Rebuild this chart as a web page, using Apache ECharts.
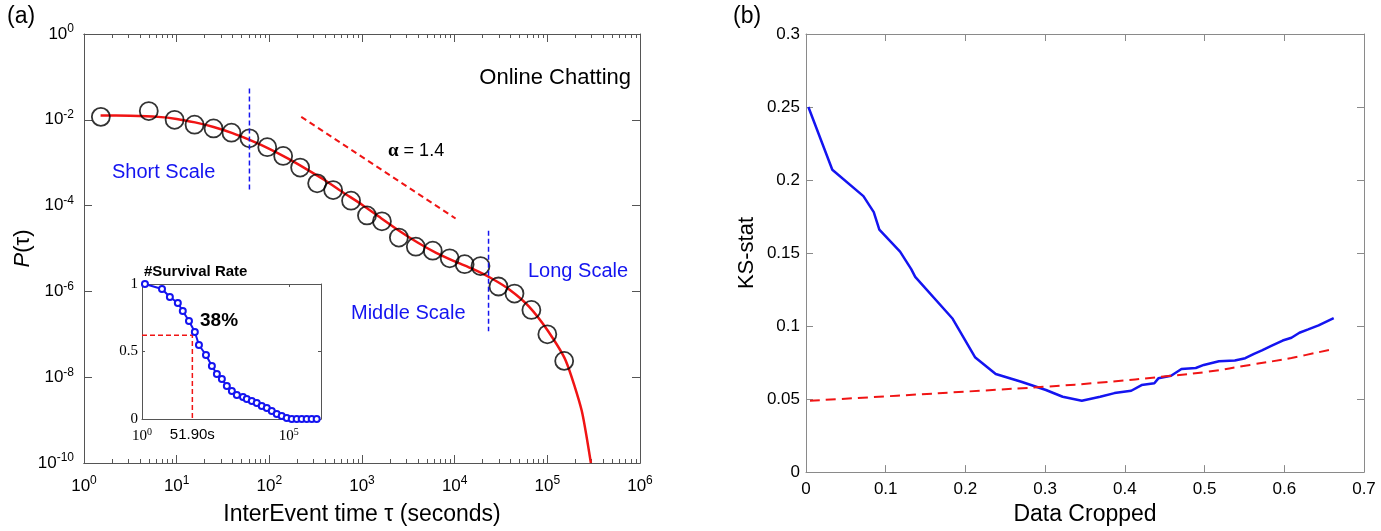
<!DOCTYPE html>
<html>
<head>
<meta charset="utf-8">
<title>InterEvent time / KS-stat</title>
<script src="https://cdn.jsdelivr.net/npm/echarts@6/dist/echarts.min.js"></script>
<style>
html, body { margin: 0; background: #fff; }
#main { width: 1381px; height: 531px; }
</style>
</head>
<body>
<div id="main"></div>
<script>
// (a) distribution of inter-event times
var tau = [1.52, 5.0, 9.5, 15.6, 25, 39, 61, 95, 141, 215, 328, 488, 762, 1132, 1641, 2500, 3808, 5800, 8836, 12816, 19000, 29700, 44200, 67300, 100000, 152000];
var pTau = [1.17e-2, 1.6e-2, 1.0e-2, 7.7e-3, 6.3e-3, 5.0e-3, 3.7e-3, 2.3e-3, 1.44e-3, 7.7e-4, 3.3e-4, 2.3e-4, 1.3e-4, 5.9e-5, 4.3e-5, 1.8e-5, 1.1e-5, 8.9e-6, 5.9e-6, 4.3e-6, 3.9e-6, 1.3e-6, 8.9e-7, 3.7e-7, 1.0e-7, 2.4e-8];
var fitTau = [1.51, 3.16, 6.3, 10, 15.8, 25, 40, 63, 100, 158, 251, 398, 631, 1000, 1585, 2512, 3981, 6310, 10000, 15849, 25119, 39811, 63096, 100000, 158489, 234423, 295121];
var fitP = [1.26e-2, 1.24e-2, 1.17e-2, 1.05e-2, 8.7e-3, 6.8e-3, 4.9e-3, 3.3e-3, 2.1e-3, 1.26e-3, 7.1e-4, 3.9e-4, 2.0e-4, 1.05e-4, 5.2e-5, 2.6e-5, 1.38e-5, 7.9e-6, 5.0e-6, 3.3e-6, 2.0e-6, 1.07e-6, 4.5e-7, 1.26e-7, 2.4e-8, 1.7e-9, 1e-10];
var scaleCuts = [61, 23200];
var cutTop = [5.4e-2, 2.6e-5];
var cutBottom = [2.3e-4, 1.17e-7];
var slopeTau = [221, 10230];
var slopeP = [1.17e-2, 5.0e-5];
var xMajor = [1, 10, 100, 1000, 10000, 100000, 1000000];
var yMajor = [1e-10, 1e-8, 1e-6, 1e-4, 1e-2, 1];

// inset: survival rate
var survTau = [1.26, 4.8, 8.9, 16.6, 24.5, 39.8, 63, 87, 151, 240, 355, 525, 776, 1150, 1700, 2750, 3700, 5500, 8100, 12000, 17800, 26300, 38900, 57500, 85100, 126000, 186000, 275000, 407000, 603000, 891000];
var survRate = [1.0, 0.963, 0.904, 0.859, 0.80, 0.726, 0.644, 0.548, 0.474, 0.393, 0.333, 0.296, 0.244, 0.207, 0.178, 0.163, 0.148, 0.133, 0.119, 0.096, 0.081, 0.059, 0.037, 0.022, 0.007, 0, 0, 0, 0, 0, 0];
var markTau = 51.9;
var markRate = 0.62;
var insetXLabels = [1, 51.9, 100000];
var insetYTicks = [0, 0.5, 1];

// (b) KS statistic vs. fraction of data cropped
var ksCrop = [0.003, 0.033, 0.072, 0.085, 0.092, 0.118, 0.132, 0.137, 0.184, 0.212, 0.238, 0.270, 0.301, 0.322, 0.346, 0.369, 0.387, 0.408, 0.421, 0.437, 0.442, 0.458, 0.471, 0.489, 0.499, 0.518, 0.538, 0.551, 0.562, 0.572, 0.583, 0.598, 0.609, 0.619, 0.630, 0.643, 0.662];
var ksStat = [0.25, 0.207, 0.189, 0.178, 0.166, 0.151, 0.139, 0.1337, 0.105, 0.0787, 0.0672, 0.0619, 0.0562, 0.0516, 0.0489, 0.0516, 0.0541, 0.0557, 0.0596, 0.0608, 0.0642, 0.066, 0.0706, 0.0713, 0.0734, 0.0759, 0.0764, 0.078, 0.081, 0.0833, 0.0862, 0.0901, 0.092, 0.0954, 0.0977, 0.1005, 0.1055];
var nullCrop = [0.005, 0.114, 0.218, 0.301, 0.374, 0.452, 0.505, 0.557, 0.609, 0.662];
var nullStat = [0.0489, 0.0523, 0.0557, 0.0585, 0.0615, 0.0656, 0.0688, 0.0734, 0.0782, 0.0844];

function zip(a, b) { return a.map(function (v, i) { return [v, b[i]]; }); }

var minorTicks = [];
for (var d = 0; d < 6; d++) {
    for (var k = 2; k < 10; k++) minorTicks.push(k * Math.pow(10, d));
}

var sans = 'Liberation Sans, Arial, sans-serif';
var serif = 'Liberation Serif, Times New Roman, serif';
var darkFrame = '#555';
var greyFrame = '#8a8a8a';
var red = '#f01414';
var blue = '#1414f0';

var supRich = {
    b: { fontSize: 17, fontFamily: sans, color: '#000' },
    s: { fontSize: 12, fontFamily: sans, color: '#000', padding: [0, 0, 10, 0] }
};
function powLabel(v) { return '{b|10}{s|' + Math.round(Math.log10(v)) + '}'; }

function frame(col, extra) {
    var a = {
        axisLine: { show: true, onZero: false, lineStyle: { color: col, width: 1 } },
        splitLine: { show: false },
        axisTick: { show: true, inside: true, length: 7, lineStyle: { color: col } },
        axisLabel: { show: false }
    };
    for (var key in extra) a[key] = extra[key];
    return a;
}
function ticks(col, len, values) {
    var t = { show: true, inside: true, length: len, lineStyle: { color: col } };
    if (values) t.customValues = values;
    return t;
}

var chart = echarts.init(document.getElementById('main'));
chart.setOption({
    backgroundColor: '#fff',
    animation: false,
    grid: [
        { left: 84, top: 34, width: 556, height: 439 },
        { left: 142, top: 284, width: 179, height: 135, show: true, backgroundColor: '#fff', borderWidth: 0, z: 5 },
        { left: 806, top: 34, width: 558, height: 439 }
    ],
    xAxis: [
        frame(darkFrame, { type: 'log', logBase: 10, gridIndex: 0, min: 1, max: 1e6, position: 'bottom',
            axisTick: ticks(darkFrame, 8, xMajor),
            axisLabel: { show: true, customValues: xMajor, margin: 12, formatter: powLabel, rich: supRich },
            name: 'InterEvent time \u03c4 (seconds)', nameLocation: 'middle', nameGap: 40,
            nameTextStyle: { fontSize: 23, fontFamily: sans, color: '#000' } }),
        frame(darkFrame, { type: 'log', logBase: 10, gridIndex: 0, min: 1, max: 1e6, position: 'bottom',
            axisTick: ticks(darkFrame, 4, minorTicks) }),
        frame(darkFrame, { type: 'log', logBase: 10, gridIndex: 0, min: 1, max: 1e6, position: 'top',
            axisTick: ticks(darkFrame, 8, xMajor) }),
        frame(darkFrame, { type: 'log', logBase: 10, gridIndex: 0, min: 1, max: 1e6, position: 'top',
            axisTick: ticks(darkFrame, 4, minorTicks) }),
        frame(darkFrame, { type: 'log', logBase: 10, gridIndex: 1, min: 1, max: 1.25e6, position: 'bottom', z: 6,
            axisTick: ticks(darkFrame, 3, [100000]),
            axisLabel: { show: true, customValues: insetXLabels, margin: 8,
                formatter: function (v) { return v === markTau ? '{m|51.90s}' : '{b|10}{s|' + Math.round(Math.log10(v)) + '}'; },
                rich: {
                    b: { fontSize: 15, fontFamily: serif, color: '#000' },
                    s: { fontSize: 10, fontFamily: serif, color: '#000', padding: [0, 0, 9, 0] },
                    m: { fontSize: 15, fontFamily: sans, color: '#000' }
                } } }),
        frame(darkFrame, { type: 'log', logBase: 10, gridIndex: 1, min: 1, max: 1.25e6, position: 'top', z: 6,
            axisTick: ticks(darkFrame, 3, [100000]) }),
        frame(greyFrame, { type: 'value', gridIndex: 2, min: 0, max: 0.7, interval: 0.1, position: 'bottom',
            axisLabel: { show: true, margin: 9, fontSize: 17, fontFamily: sans, color: '#000' },
            name: 'Data Cropped', nameLocation: 'middle', nameGap: 30,
            nameTextStyle: { fontSize: 23, fontFamily: sans, color: '#000' } }),
        frame(greyFrame, { type: 'value', gridIndex: 2, min: 0, max: 0.7, interval: 0.1, position: 'top' })
    ],
    yAxis: [
        frame(darkFrame, { type: 'log', logBase: 10, gridIndex: 0, min: 1e-10, max: 1, position: 'left',
            axisTick: ticks(darkFrame, 8, yMajor),
            axisLabel: { show: true, customValues: yMajor, margin: 10, formatter: powLabel, rich: supRich },
            name: '{i|P}{n|(\u03c4)}', nameLocation: 'middle', nameGap: 50, nameRotate: 90,
            nameTextStyle: { rich: {
                i: { fontSize: 22, fontStyle: 'italic', fontFamily: sans, color: '#000' },
                n: { fontSize: 22, fontFamily: sans, color: '#000' } } } }),
        frame(darkFrame, { type: 'log', logBase: 10, gridIndex: 0, min: 1e-10, max: 1, position: 'right',
            axisTick: ticks(darkFrame, 8, yMajor) }),
        frame(darkFrame, { type: 'value', gridIndex: 1, min: 0, max: 1, position: 'left', z: 6,
            axisTick: ticks(darkFrame, 3, [0.5]),
            axisLabel: { show: true, customValues: insetYTicks, margin: 4, fontSize: 15, fontFamily: serif, color: '#000' } }),
        frame(darkFrame, { type: 'value', gridIndex: 1, min: 0, max: 1, position: 'right', z: 6,
            axisTick: ticks(darkFrame, 3, [0.5]) }),
        frame(greyFrame, { type: 'value', gridIndex: 2, min: 0, max: 0.3, interval: 0.05, position: 'left',
            axisLabel: { show: true, margin: 6, fontSize: 17, fontFamily: sans, color: '#000' },
            name: 'KS-stat', nameLocation: 'middle', nameGap: 48, nameRotate: 90,
            nameTextStyle: { fontSize: 22, fontFamily: sans, color: '#000' } }),
        frame(greyFrame, { type: 'value', gridIndex: 2, min: 0, max: 0.3, interval: 0.05, position: 'right' })
    ],
    series: [
        { type: 'line', xAxisIndex: 0, yAxisIndex: 0, data: zip(fitTau, fitP), showSymbol: false, smooth: 0.2,
          lineStyle: { color: red, width: 2.5 }, z: 2 },
        { type: 'scatter', xAxisIndex: 0, yAxisIndex: 0, data: zip(tau, pTau), symbol: 'circle', symbolSize: 18,
          itemStyle: { color: 'rgba(0,0,0,0)', borderColor: '#000', borderWidth: 1.8 }, z: 3 },
        { type: 'line', xAxisIndex: 0, yAxisIndex: 0, data: [[scaleCuts[0], cutTop[0]], [scaleCuts[0], cutBottom[0]]],
          showSymbol: false, lineStyle: { color: blue, width: 1.5, type: [5, 3] }, z: 4 },
        { type: 'line', xAxisIndex: 0, yAxisIndex: 0, data: [[scaleCuts[1], cutTop[1]], [scaleCuts[1], cutBottom[1]]],
          showSymbol: false, lineStyle: { color: blue, width: 1.5, type: [5, 3] }, z: 4 },
        { type: 'line', xAxisIndex: 0, yAxisIndex: 0, data: zip(slopeTau, slopeP),
          showSymbol: false, lineStyle: { color: red, width: 2, type: [6, 4] }, z: 4 },
        { type: 'line', xAxisIndex: 4, yAxisIndex: 2, data: [[1, markRate], [markTau, markRate], [markTau, 0]],
          showSymbol: false, lineStyle: { color: red, width: 1.5, type: [5, 3] }, z: 7 },
        { type: 'line', xAxisIndex: 4, yAxisIndex: 2, data: zip(survTau, survRate), symbol: 'emptyCircle', symbolSize: 6,
          lineStyle: { color: blue, width: 2 }, itemStyle: { color: blue, borderWidth: 1.5 }, z: 8 },
        { type: 'line', xAxisIndex: 6, yAxisIndex: 4, data: zip(ksCrop, ksStat), showSymbol: false,
          lineStyle: { color: blue, width: 2.5 }, z: 3 },
        { type: 'line', xAxisIndex: 6, yAxisIndex: 4, data: zip(nullCrop, nullStat), showSymbol: false, smooth: 0.4,
          lineStyle: { color: red, width: 2, type: [10, 6] }, z: 3 }
    ],
    graphic: [
        { type: 'text', x: 7, y: 17, style: { text: '(a)', font: '23px ' + sans, fill: '#000', textVerticalAlign: 'middle' } },
        { type: 'text', x: 733, y: 17, style: { text: '(b)', font: '23px ' + sans, fill: '#000', textVerticalAlign: 'middle' } },
        { type: 'text', x: 631, y: 78, style: { text: 'Online Chatting', font: '22px ' + sans, fill: '#000', textAlign: 'right', textVerticalAlign: 'middle' } },
        { type: 'text', x: 388, y: 151, style: { text: '{a|\u03b1} = 1.4', font: '18px ' + sans, fill: '#000', textVerticalAlign: 'middle',
            rich: { a: { font: 'bold 19px ' + serif, fill: '#000' } } } },
        { type: 'text', x: 112, y: 172, style: { text: 'Short Scale', font: '20px ' + sans, fill: blue, textVerticalAlign: 'middle' } },
        { type: 'text', x: 351, y: 313, style: { text: 'Middle Scale', font: '20px ' + sans, fill: blue, textVerticalAlign: 'middle' } },
        { type: 'text', x: 528, y: 271, style: { text: 'Long Scale', font: '20px ' + sans, fill: blue, textVerticalAlign: 'middle' } },
        { type: 'text', x: 144, y: 272, style: { text: '#Survival Rate', font: 'bold 15px ' + sans, fill: '#000', textVerticalAlign: 'middle' } },
        { type: 'text', x: 200, y: 321, style: { text: '38%', font: 'bold 19px ' + sans, fill: '#000', textVerticalAlign: 'middle' }, z: 10 }
    ]
});
</script>
</body>
</html>
